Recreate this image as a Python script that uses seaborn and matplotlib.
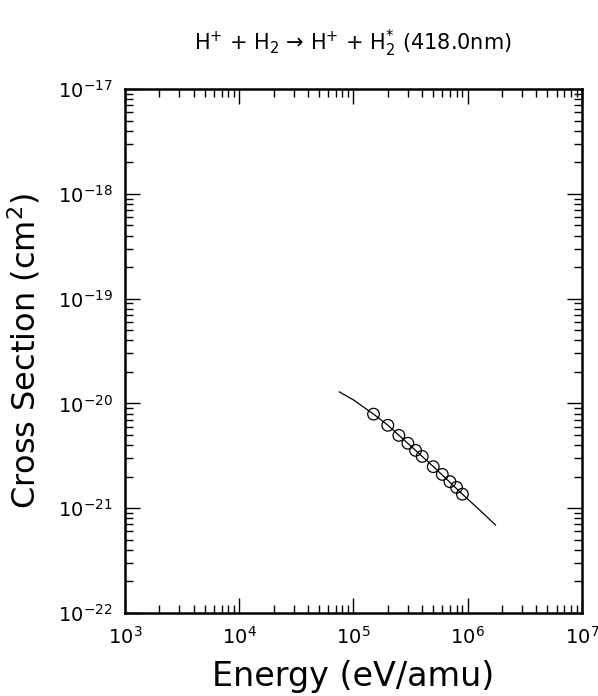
import matplotlib
matplotlib.use("Agg")
import matplotlib.pyplot as plt
import matplotlib.ticker as mticker
import seaborn as sns
import pandas as pd

# fitted curve (eV/amu, cm^2)
curve_energy = [7.5e4, 1.0e5, 1.5e5, 2.0e5, 3.0e5, 5.0e5, 9.0e5, 1.2e6, 1.76e6]
curve_sigma = [1.29e-20, 1.08e-20, 7.9e-21, 6.2e-21, 4.15e-21, 2.5e-21, 1.36e-21, 1.02e-21, 6.9e-22]

# measured points
data_energy = [1.5e5, 2.0e5, 2.5e5, 3.0e5, 3.5e5, 4.0e5, 5.0e5, 6.0e5, 7.0e5, 8.0e5, 9.0e5]
data_sigma = [7.9e-21, 6.18e-21, 4.95e-21, 4.16e-21, 3.56e-21, 3.12e-21, 2.49e-21, 2.1e-21, 1.79e-21, 1.58e-21, 1.36e-21]

x_ticks = [1e3, 1e4, 1e5, 1e6, 1e7]
y_ticks = [1e-22, 1e-21, 1e-20, 1e-19, 1e-18, 1e-17]

title = r"H$^{+}$ + H$_2$ → H$^{+}$ + H$_2^{*}$ (418.0nm)"

sns.set_theme(style="ticks")
plt.rcParams["font.family"] = ["DejaVu Sans"]
plt.rcParams["mathtext.fontset"] = "dejavusans"
plt.rcParams["text.color"] = "black"
plt.rcParams["axes.labelcolor"] = "black"

curve_df = pd.DataFrame({"Energy": curve_energy, "Sigma": curve_sigma})
data_df = pd.DataFrame({"Energy": data_energy, "Sigma": data_sigma})

fig = plt.figure(figsize=(5.98, 6.96), dpi=100)
ax = fig.add_axes([0.209, 0.1193, 0.764, 0.7528])

sns.lineplot(data=curve_df, x="Energy", y="Sigma", color="black", linewidth=0.9, ax=ax)
sns.scatterplot(data=data_df, x="Energy", y="Sigma", marker="o", s=70,
                facecolor="none", edgecolor="black", linewidth=0.9, ax=ax, zorder=3)

ax.set_xscale("log")
ax.set_yscale("log")
ax.set_xlim(1e3, 1e7)
ax.set_ylim(1e-22, 1e-17)
ax.set_xticks(x_ticks)
ax.set_yticks(y_ticks)
ax.xaxis.set_minor_locator(mticker.LogLocator(base=10, subs=range(2, 10), numticks=20))
ax.yaxis.set_minor_locator(mticker.LogLocator(base=10, subs=range(2, 10), numticks=20))
ax.xaxis.set_minor_formatter(mticker.NullFormatter())
ax.yaxis.set_minor_formatter(mticker.NullFormatter())

ax.tick_params(which="both", direction="in", top=True, right=True, width=1.0,
               colors="black", labelcolor="black")
ax.tick_params(which="major", length=11, labelsize=14, pad=9)
ax.tick_params(which="minor", length=6)
for sp in ax.spines.values():
    sp.set_linewidth(1.8)
    sp.set_color("black")

ax.set_xlabel("Energy (eV/amu)", fontsize=24)
ax.set_ylabel(r"Cross Section (cm$^2$)", fontsize=23)
ax.xaxis.set_label_coords(0.5, -0.09)
ax.yaxis.set_label_coords(-0.18, 0.5)
fig.text(0.59, 0.937, title, ha="center", va="center", fontsize=15)

fig.savefig("out.png", dpi=100)
plt.close(fig)
